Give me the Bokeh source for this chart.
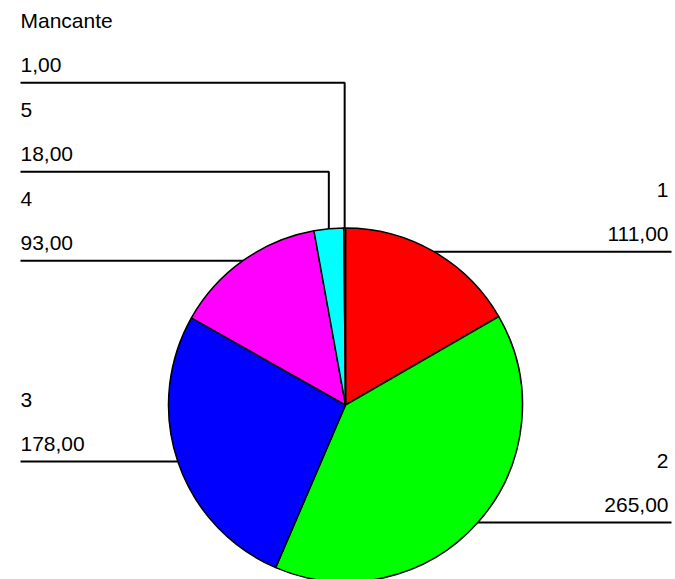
import numpy as np
from bokeh.plotting import figure
from bokeh.models import Range1d, ColumnDataSource
from bokeh.embed import file_html
from bokeh.resources import INLINE
from bokeh.core.properties import value

# Slice data, in drawing order (clockwise from 12 o'clock)
categories = ["1", "2", "3", "4", "5", "Mancante"]
counts = [111, 265, 178, 93, 18, 1]
slice_colors = ["#FF0000", "#00FF00", "#0000FF", "#FF00FF", "#00FFFF", "#FFFF00"]

W, H = 675, 579
CX, CY, R = 345.0, H - 404.5, 177.0
LEFT_X, RIGHT_X = 20.0, 671.0
LABEL_GAP = 89.0
NAME_OFFSET, VALUE_OFFSET = 62.0, 17.5
FONT = value("Liberation Sans")
FONT_SIZE = "21px"

p = figure(width=W, height=H, x_range=Range1d(0, W), y_range=Range1d(0, H),
           output_backend="svg", toolbar_location=None, min_border=0,
           x_axis_location=None, y_axis_location=None)
p.grid.visible = False
p.outline_line_color = None
p.background_fill_color = "white"
p.border_fill_color = "white"

vals = np.array(counts, dtype=float)
total = vals.sum()
cum = np.cumsum(vals)
before = cum - vals
start = np.pi / 2 - 2 * np.pi * before / total
end = np.pi / 2 - 2 * np.pi * cum / total
mid = np.pi / 2 - 2 * np.pi * (before + vals / 2) / total

src = ColumnDataSource(dict(start=start, end=end, color=slice_colors))
p.wedge(x=CX, y=CY, radius=R, start_angle="start", end_angle="end",
        direction="clock", fill_color="color", line_color="black",
        line_width=1.5, source=src)

# Leader lines and labels
ax = CX + R * np.cos(mid)
ay = CY + R * np.sin(mid)
value_texts = [f"{v:.2f}".replace(".", ",") for v in counts]

line_xs, line_ys = [], []
tx_l, ty_l, tt_l = [], [], []
tx_r, ty_r, tt_r = [], [], []

prev_left = -1e9
for i in range(len(counts)):
    if np.cos(mid[i]) > 0:
        ly = ay[i]
        line_xs.append([ax[i], RIGHT_X])
        line_ys.append([ly, ly])
        tx_r += [RIGHT_X - 3, RIGHT_X - 3]
        ty_r += [ly + NAME_OFFSET, ly + VALUE_OFFSET]
        tt_r += [categories[i], value_texts[i]]
    else:
        ly = max(ay[i], prev_left + LABEL_GAP)
        prev_left = ly
        if ly > ay[i] + 0.5:
            line_xs.append([ax[i], ax[i], LEFT_X])
            line_ys.append([ay[i], ly, ly])
        else:
            line_xs.append([ax[i], LEFT_X])
            line_ys.append([ly, ly])
        tx_l += [LEFT_X, LEFT_X]
        ty_l += [ly + NAME_OFFSET, ly + VALUE_OFFSET]
        tt_l += [categories[i], value_texts[i]]

p.multi_line(xs=line_xs, ys=line_ys, line_color="black", line_width=2)

p.text(x=tx_l, y=ty_l, text=tt_l, text_align="left", text_baseline="alphabetic",
       text_font=FONT, text_font_size=FONT_SIZE, text_color="black")
p.text(x=tx_r, y=ty_r, text=tt_r, text_align="right", text_baseline="alphabetic",
       text_font=FONT, text_font_size=FONT_SIZE, text_color="black")

open("out.html", "w").write(file_html(p, INLINE))
